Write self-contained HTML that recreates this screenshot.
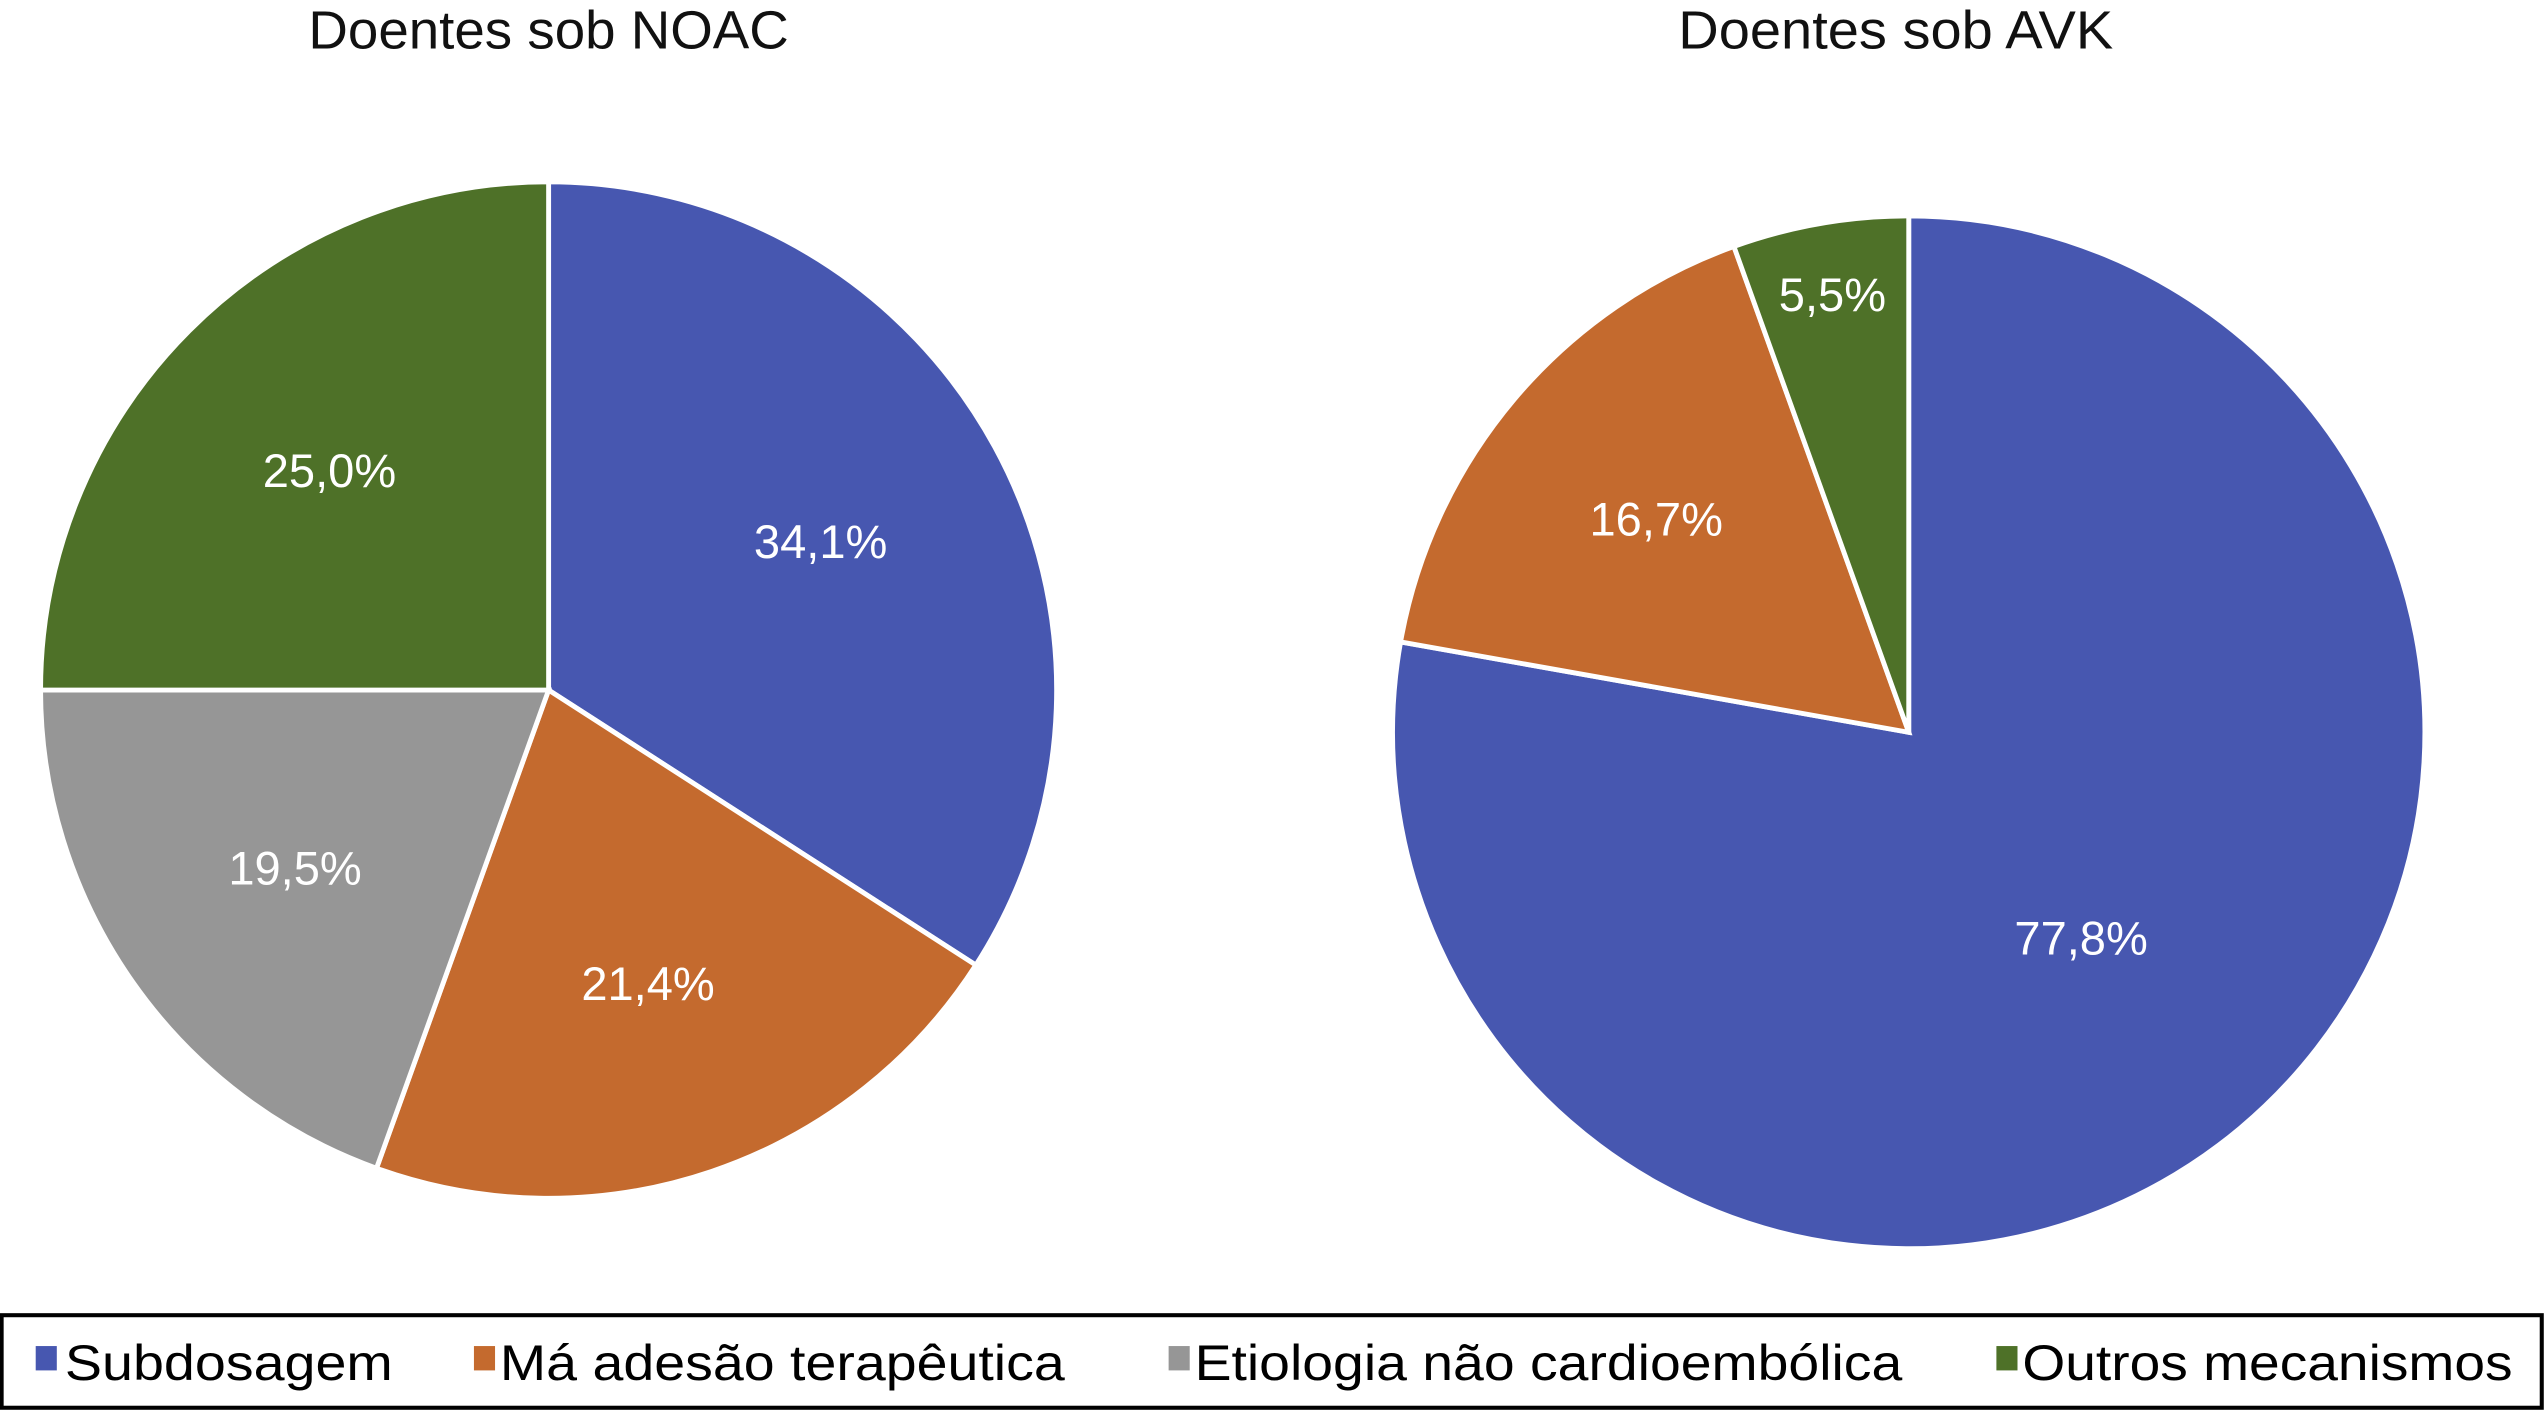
<!DOCTYPE html>
<html><head><meta charset="utf-8"><style>html,body{margin:0;padding:0;background:#fff}svg{display:block}</style></head>
<body>
<svg id="chart" width="2545" height="1411" viewBox="0 0 1568 869" preserveAspectRatio="none" xmlns="http://www.w3.org/2000/svg" font-family="'Liberation Sans', sans-serif">
<rect width="1568" height="869" fill="#fff"/>
<text x="338" y="30" font-size="33" text-anchor="middle" fill="#111" textLength="296" lengthAdjust="spacingAndGlyphs">Doentes sob NOAC</text>
<text x="1168" y="30" font-size="33" text-anchor="middle" fill="#111" textLength="268" lengthAdjust="spacingAndGlyphs">Doentes sob AVK</text>
<g id="pies"></g>
<rect x="1" y="810" width="1565" height="57" fill="#fff" stroke="#000" stroke-width="2.5"/>
<g id="legend"></g>
</svg>
<script>
const categories = ["Subdosagem","Má adesão terapêutica","Etiologia não cardioembólica","Outros mecanismos"];
const colors = ["#4757B0","#C46A2E","#969696","#4E7128"];
const noacValues = [34.1, 21.4, 19.5, 25.0];
const avkValues = [77.8, 16.7, 0, 5.5];
const NS = "http://www.w3.org/2000/svg";
const pies = document.getElementById("pies");
function drawPie(name, values, cx, cy, r, lf){
  const total = values.reduce((a,b)=>a+b,0);
  let a0 = 0;
  values.forEach((v,i)=>{
    if(v<=0) return;
    const frac = v/total;
    const a1 = a0 + frac*2*Math.PI;
    const x0=cx+r*Math.sin(a0), y0=cy-r*Math.cos(a0);
    const x1=cx+r*Math.sin(a1), y1=cy-r*Math.cos(a1);
    const p=document.createElementNS(NS,"path");
    p.setAttribute("d",`M${cx},${cy}L${x0},${y0}A${r},${r} 0 ${a1-a0>Math.PI?1:0} 1 ${x1},${y1}Z`);
    p.setAttribute("fill",colors[i]);p.setAttribute("stroke","#fff");p.setAttribute("stroke-width","3");
    
    
    pies.appendChild(p);
    const am=(a0+a1)/2;
    const f = frac<0.1 ? 0.86 : (frac>0.5 ? 0.52 : lf);
    const t=document.createElementNS(NS,"text");
    t.setAttribute("x",cx+f*r*Math.sin(am));t.setAttribute("y",cy-f*r*Math.cos(am)+10);
    t.setAttribute("text-anchor","middle");t.setAttribute("font-size","29");t.setAttribute("fill","#fff");
    t.textContent=v.toFixed(1).replace(".",",")+"%";
    
    
    pies.appendChild(t);
    a0=a1;
  });
}
drawPie("noac", noacValues, 338, 425, 313, 0.61);
drawPie("avk", avkValues, 1176, 451, 318, 0.64);
const lg=document.getElementById("legend");
const mx=[22,292,720,1230], tx=[40,308,736,1246], tw=[202,348,436,302];
categories.forEach((c,i)=>{
  const r=document.createElementNS(NS,"rect");
  r.setAttribute("x",mx[i]);r.setAttribute("y",829);r.setAttribute("width",13);r.setAttribute("height",15);r.setAttribute("fill",colors[i]);
  
  
  lg.appendChild(r);
  const t=document.createElementNS(NS,"text");
  t.setAttribute("x",tx[i]);t.setAttribute("y",850);t.setAttribute("font-size","31");t.setAttribute("fill","#000");
  t.setAttribute("textLength",tw[i]);t.setAttribute("lengthAdjust","spacingAndGlyphs");
  t.textContent=c;
  
  
  lg.appendChild(t);
});
</script>
</body></html>
